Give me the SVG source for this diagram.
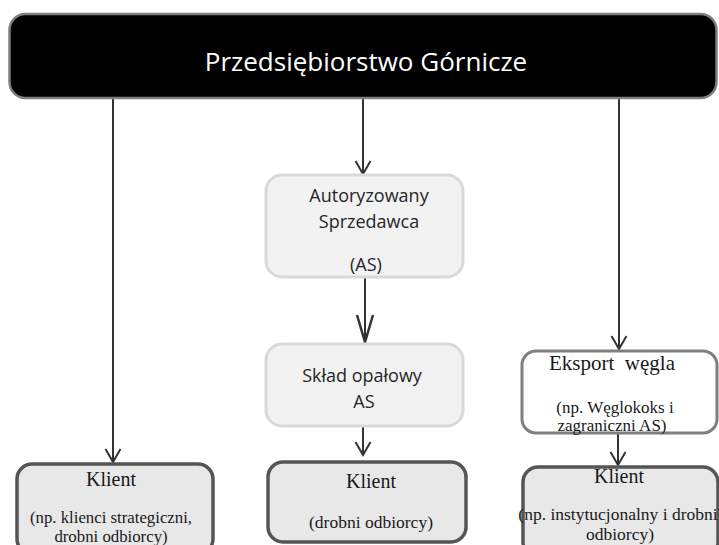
<svg xmlns="http://www.w3.org/2000/svg" width="719" height="545" viewBox="0 0 719 545">
<defs>
<style>
.sans{font-family:"Open Sans","Liberation Sans",sans-serif;fill:#262626;text-anchor:middle}
.serif{font-family:"Liberation Serif","DejaVu Serif",serif;fill:#1a1a1a;text-anchor:middle}
.conn{stroke:#333;stroke-width:2;fill:none}
.light{fill:#f2f2f2;stroke:#d9d9d9;stroke-width:3}
.client{fill:#e8e8e8;stroke:#555;stroke-width:3.5}
.export{fill:#fff;stroke:#7f7f7f;stroke-width:3}
</style>
<marker id="v" markerUnits="userSpaceOnUse" markerWidth="18" markerHeight="22" viewBox="-16 -11 18 22" refX="0" refY="0" orient="auto" overflow="visible">
<path d="M-13,-7.5 L0,0 L-13,7.5" fill="none" stroke="#333" stroke-width="2"/>
</marker>
<marker id="vl" markerUnits="userSpaceOnUse" markerWidth="32" markerHeight="22" viewBox="-30 -11 32 22" refX="0" refY="0" orient="auto" overflow="visible">
<path d="M-27,-8 L0,0 L-27,8" fill="none" stroke="#333" stroke-width="2.5"/>
</marker>
</defs>
<rect width="719" height="545" fill="#fff"/>
<g id="connectors">
<line class="conn" x1="113" y1="98" x2="113" y2="462" marker-end="url(#v)"/>
<line class="conn" x1="363" y1="98" x2="363" y2="174" marker-end="url(#v)"/>
<line class="conn" x1="619" y1="98" x2="619" y2="349" marker-end="url(#v)"/>
<line class="conn" x1="365" y1="278" x2="365" y2="342" stroke-width="2.5" marker-end="url(#vl)"/>
<line class="conn" x1="363" y1="427" x2="363" y2="455" marker-end="url(#v)"/>
<line class="conn" x1="618" y1="434" x2="618" y2="465" marker-end="url(#v)"/>
</g>
<g id="node-top">
<rect x="9.5" y="14" width="707" height="84" rx="16" fill="#000" stroke="#7f7f7f" stroke-width="2.5"/>
<text x="366" y="71" font-family="Open Sans, Liberation Sans, sans-serif" font-size="26" fill="#fff" text-anchor="middle">Przedsiębiorstwo Górnicze</text>
</g>
<g id="node-as">
<rect class="light" x="266" y="175" width="197" height="102" rx="16"/>
<text class="sans" x="369" y="202" font-size="18">Autoryzowany</text>
<text class="sans" x="369" y="228" font-size="18">Sprzedawca</text>
<text class="sans" x="366" y="271" font-size="18">(AS)</text>
</g>
<g id="node-sklad">
<rect class="light" x="266" y="344" width="197" height="82" rx="16"/>
<text class="sans" x="362" y="382" font-size="18">Skład opałowy</text>
<text class="sans" x="364" y="408" font-size="18">AS</text>
</g>
<g id="node-eksport">
<rect class="export" x="522" y="351" width="195" height="82" rx="14"/>
<text class="serif" x="612" y="370" font-size="21" xml:space="preserve">Eksport  węgla</text>
<text class="serif" x="615" y="413" font-size="17">(np. Węglokoks i</text>
<text class="serif" x="612" y="431" font-size="17">zagraniczni AS)</text>
</g>
<g id="node-klient-1">
<rect class="client" x="17" y="464" width="196" height="90" rx="15"/>
<text class="serif" x="111" y="486" font-size="20">Klient</text>
<text class="serif" x="111" y="523" font-size="16.8">(np. klienci strategiczni,</text>
<text class="serif" x="111" y="542" font-size="16.8">drobni odbiorcy)</text>
</g>
<g id="node-klient-2">
<rect class="client" x="268" y="462" width="198" height="80" rx="15"/>
<text class="serif" x="371" y="488" font-size="20">Klient</text>
<text class="serif" x="371" y="528" font-size="17.5">(drobni odbiorcy)</text>
</g>
<g id="node-klient-3">
<rect class="client" x="523" y="467" width="195" height="90" rx="15"/>
<text class="serif" x="619" y="483" font-size="20">Klient</text>
<text class="serif" x="618" y="520" font-size="17.5">(np. instytucjonalny i drobni</text>
<text class="serif" x="620" y="540" font-size="17.5">odbiorcy)</text>
</g>
</svg>
